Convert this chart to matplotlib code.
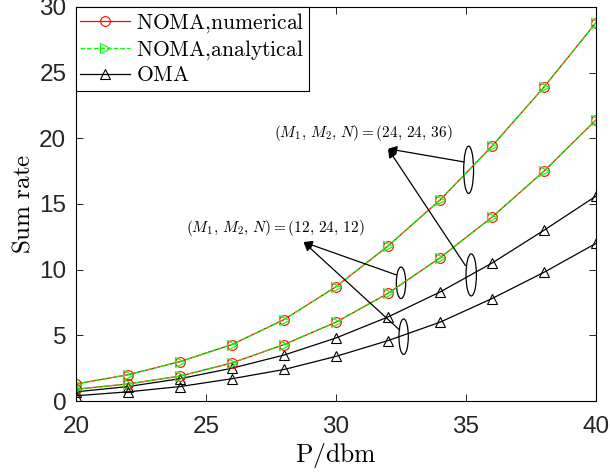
import numpy as np
import matplotlib
matplotlib.use("Agg")
import matplotlib.pyplot as plt
from matplotlib.patches import Ellipse

plt.rcParams['mathtext.fontset'] = 'cm'
plt.rcParams['font.family'] = ['Liberation Sans', 'DejaVu Sans']

# data
P_dbm = [20, 22, 24, 26, 28, 30, 32, 34, 36, 38, 40]
noma_num_36 = [1.3, 2.0, 3.0, 4.3, 6.2, 8.7, 11.8, 15.3, 19.4, 23.9, 28.8]
noma_ana_36 = [1.3, 2.0, 3.0, 4.3, 6.2, 8.7, 11.8, 15.3, 19.4, 23.9, 28.8]
noma_num_12 = [0.9, 1.3, 1.9, 2.9, 4.3, 6.0, 8.2, 10.9, 14.0, 17.5, 21.4]
noma_ana_12 = [0.9, 1.3, 1.9, 2.9, 4.3, 6.0, 8.2, 10.9, 14.0, 17.5, 21.4]
oma_a = [0.7, 1.1, 1.7, 2.5, 3.5, 4.8, 6.4, 8.3, 10.5, 13.0, 15.6]
oma_b = [0.4, 0.7, 1.1, 1.7, 2.4, 3.4, 4.6, 6.0, 7.8, 9.8, 12.0]

fig = plt.figure(figsize=(6.1, 4.76), dpi=100)
ax = fig.add_axes([0.1246, 0.1575, 0.8525, 0.828])

ms = 7
ax.plot(P_dbm, noma_num_36, color='r', lw=0.9, marker='o', ms=ms, mfc='none', mew=0.8, label=r'$\mathrm{NOMA{,}numerical}$')
ax.plot(P_dbm, noma_ana_36, color='#00ff00', lw=0.9, ls='--', marker='>', ms=ms, mfc='none', mew=0.8, label=r'$\mathrm{NOMA{,}analytical}$')
ax.plot(P_dbm, oma_a, color='k', lw=0.9, marker='^', ms=ms, mfc='none', mew=0.8, label=r'$\mathrm{OMA}$')
ax.plot(P_dbm, noma_num_12, color='r', lw=0.9, marker='o', ms=ms, mfc='none', mew=0.8)
ax.plot(P_dbm, noma_ana_12, color='#00ff00', lw=0.9, ls='--', marker='>', ms=ms, mfc='none', mew=0.8)
ax.plot(P_dbm, oma_b, color='k', lw=0.9, marker='^', ms=ms, mfc='none', mew=0.8)

ax.set_xlim(20, 40)
ax.set_ylim(0, 30)
ax.set_xticks([20, 25, 30, 35, 40])
ax.set_yticks([0, 5, 10, 15, 20, 25, 30])
ax.tick_params(direction='in', top=True, right=True, labelsize=17.5, length=5, width=0.6,
               labelcolor='#262626')
ax.tick_params(axis='x', pad=11)
ax.tick_params(axis='y', pad=7)
for s in ax.spines.values():
    s.set_linewidth(0.8)

ax.set_xlabel(r'$\mathrm{P/dbm}$', fontsize=18.5, labelpad=2)
ax.set_ylabel(r'$\mathrm{Sum\ rate}$', fontsize=18, labelpad=3)

# ellipses marking curve groups
ells = [(35.1, 17.6, 0.38, 3.6), (35.2, 9.6, 0.4, 3.2), (32.5, 9.0, 0.36, 2.4), (32.6, 4.9, 0.36, 2.7)]
for cx, cy, w, h in ells:
    ax.add_patch(Ellipse((cx, cy), w, h, fill=False, ec='k', lw=0.9))

ap = dict(arrowstyle='-|>', color='k', lw=0.9, mutation_scale=13, shrinkA=0, shrinkB=0)
ax.annotate('', xy=(32.0, 19.2), xytext=(34.92, 18.2), arrowprops=ap)
ax.annotate('', xy=(32.0, 19.2), xytext=(34.98, 10.3), arrowprops=ap)
ax.annotate('', xy=(28.75, 12.1), xytext=(32.32, 9.6), arrowprops=ap)
ax.annotate('', xy=(28.75, 12.1), xytext=(32.45, 5.4), arrowprops=ap)
ax.text(31.06, 20.4, r'$(M_1,\,M_2,\,N)=(24,\,24,\,36)$', fontsize=11, ha='center', va='center')
ax.text(27.68, 13.2, r'$(M_1,\,M_2,\,N)=(12,\,24,\,12)$', fontsize=11, ha='center', va='center')

leg = ax.legend(loc='upper left', fontsize=15.5, fancybox=False, edgecolor='k', framealpha=1,
                borderaxespad=0, handlelength=2.3, handletextpad=0.3, labelspacing=0.15, borderpad=0.2)
leg.get_frame().set_linewidth(0.8)

fig.savefig('out.png', dpi=100)
